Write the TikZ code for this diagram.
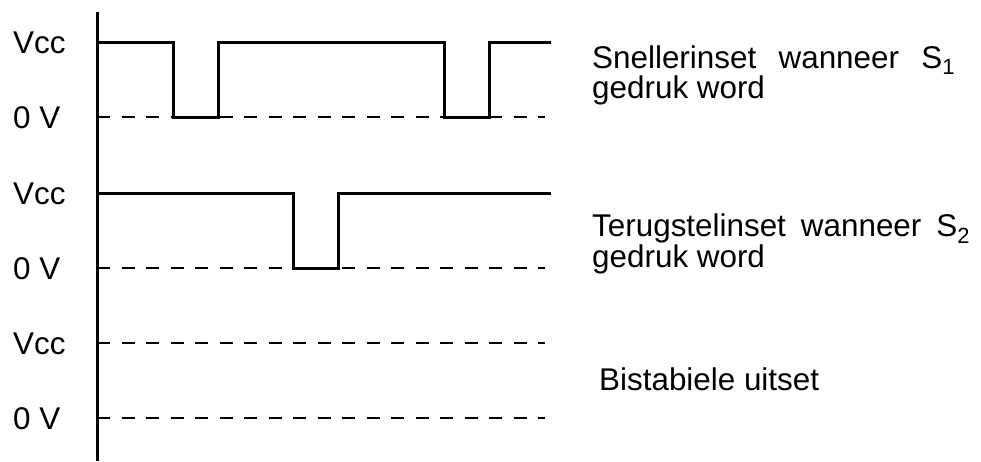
\documentclass[tikz,border=0pt]{standalone}
\usepackage{fontspec}
\setmainfont{Liberation Sans}
\tikzset{
    wave/.style={line width=3pt, line join=miter},
    level/.style={line width=2pt, dash pattern=on 13pt off 11.5pt},
    axislabel/.style={anchor=base west, inner sep=0pt,
        font=\fontsize{31.4}{34}\selectfont},
    sidelabel/.style={anchor=base west, inner sep=0pt, align=left,
        font=\fontsize{31.4}{30.5}\selectfont}
}

\begin{document}
\begin{tikzpicture}[x=1pt,y=-1pt]
	\useasboundingbox (0,0) rectangle (981,461);
	\coordinate (top) at (97,12);
	\coordinate (bot) at (97,461);
	\draw[line width=3pt] (top) -- (bot);
	% level lines
	\foreach \y in {117,268,343,418}
		\draw[level] (97,\y) -- (545,\y);
	% pulses
	\draw[wave] (97,42) -- (173,42) -- (173,117) -- (218,117) -- (218,42)
		-- (444,42) -- (444,117) -- (489,117) -- (489,42) -- (551,42);
	\draw[wave] (97,193) -- (293,193) -- (293,268) -- (338,268) -- (338,193)
		-- (551,193);
	% axis labels
	\foreach \n/\y in {1/42,2/193,3/343} {
		\node[axislabel] (vcc\n) at (13,\y+11) {Vcc};
		\node[axislabel] (zero\n) at (13,\y+86) {0 V};
	}
	% signal labels (base is the last line)
	\node[sidelabel] (set) at (592,98.5)
		{\makebox[363pt][s]{Snellerinset wanneer S\textsubscript{1}}\\gedruk word};
	\node[sidelabel] (reset) at (592,267)
		{\makebox[378pt][s]{Terugstelinset wanneer S\textsubscript{2}}\\gedruk word};
	\node[sidelabel] (out) at (599,390) {Bistabiele uitset};
\end{tikzpicture}
\end{document}
